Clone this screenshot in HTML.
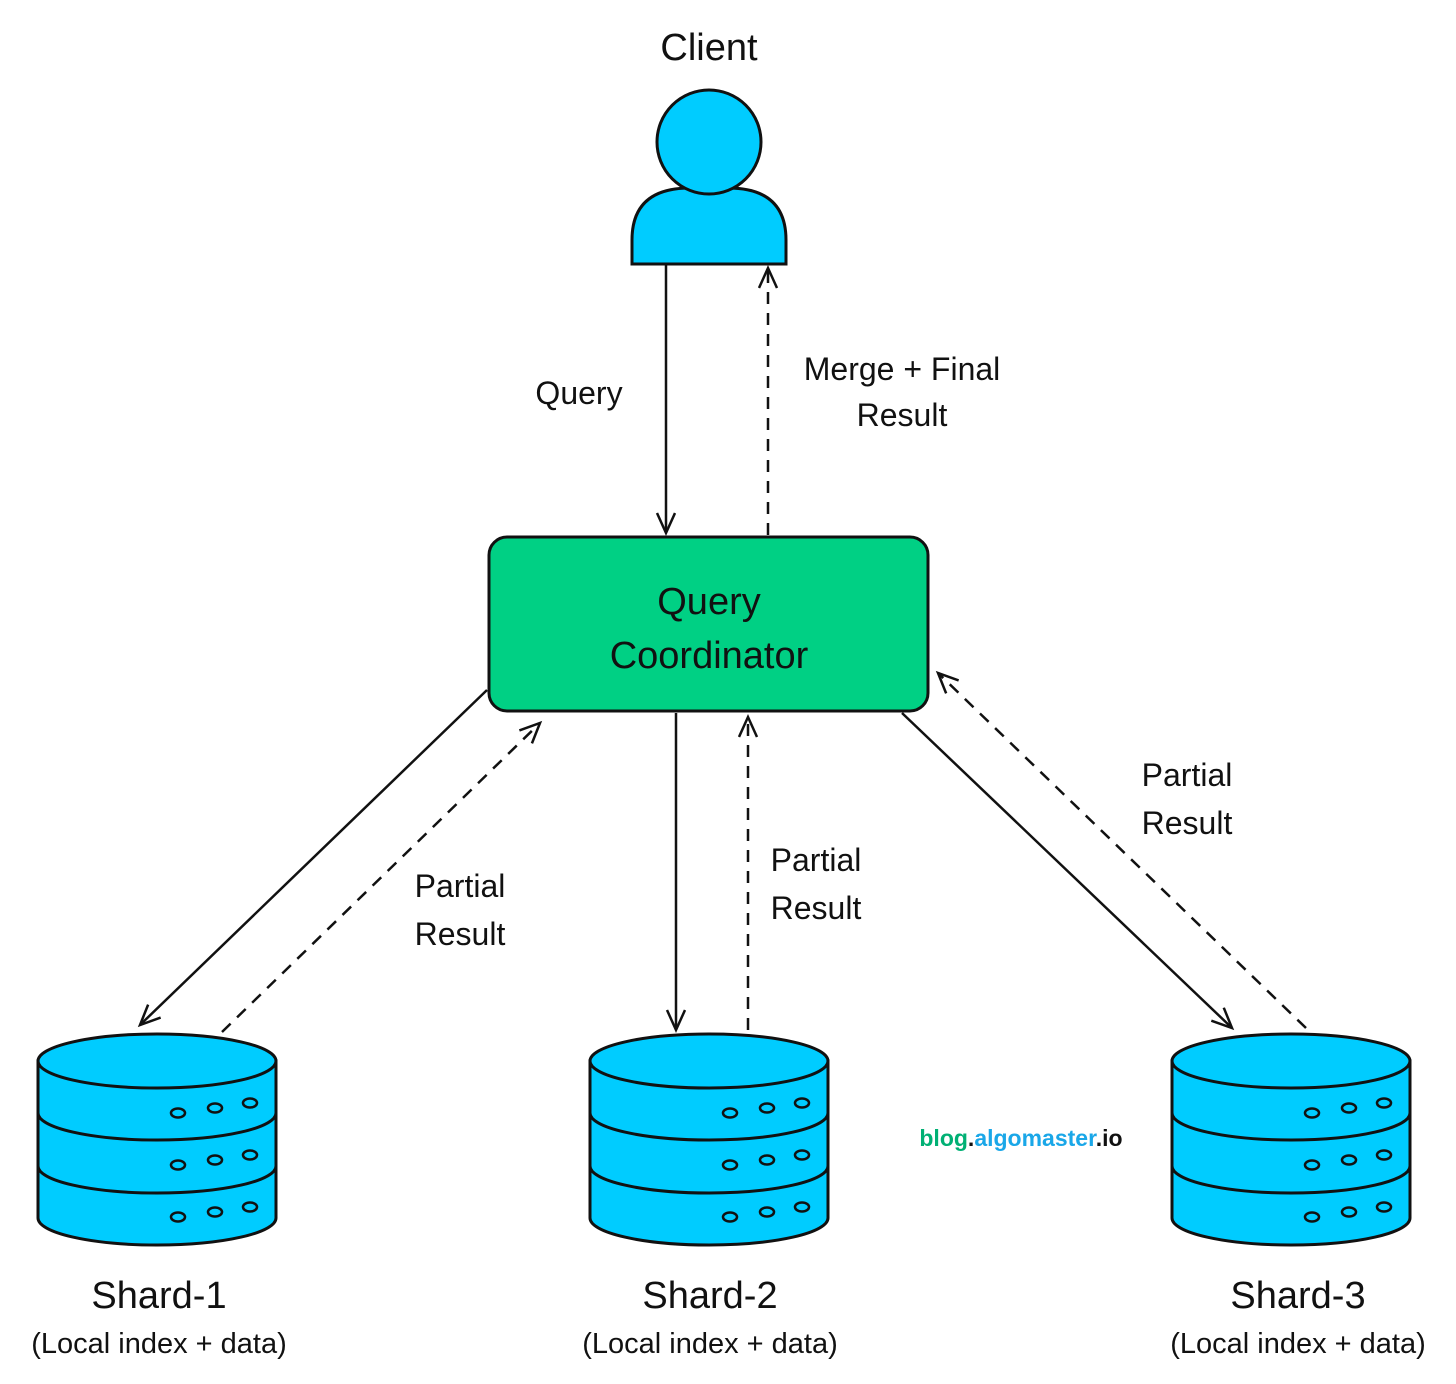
<!DOCTYPE html>
<html><head><meta charset="utf-8"><style>
html,body{margin:0;padding:0;background:#fff}
svg text{font-family:"Comic Sans MS","Liberation Sans",sans-serif;fill:#111}
</style></head><body>
<svg width="1456" height="1379" viewBox="0 0 1456 1379" xmlns="http://www.w3.org/2000/svg">
<defs>
<marker id="a" markerWidth="30" markerHeight="30" refX="22" refY="10" orient="auto" markerUnits="userSpaceOnUse">
<path d="M2,1 L22,10 L2,19" fill="none" stroke="#111" stroke-width="2.5"/>
</marker>
<g id="db" stroke="#111" stroke-width="3" fill="#00ccff">
<path d="M0,28 L0,185 A119,27 0 0 0 238,185 L238,28 Z"/>
<ellipse cx="119" cy="28" rx="119" ry="27"/>
<path d="M0,80 A119,27 0 0 0 238,80" fill="none"/>
<path d="M0,133 A119,27 0 0 0 238,133" fill="none"/>
<g fill="none" stroke-width="2.5">
<ellipse cx="140" cy="80" rx="7" ry="4.5"/><ellipse cx="177" cy="75" rx="7" ry="4.5"/><ellipse cx="212" cy="70" rx="7" ry="4.5"/>
<ellipse cx="140" cy="132" rx="7" ry="4.5"/><ellipse cx="177" cy="127" rx="7" ry="4.5"/><ellipse cx="212" cy="122" rx="7" ry="4.5"/>
<ellipse cx="140" cy="184" rx="7" ry="4.5"/><ellipse cx="177" cy="179" rx="7" ry="4.5"/><ellipse cx="212" cy="174" rx="7" ry="4.5"/>
</g>
</g>
</defs>

<text x="709" y="60" font-size="38" text-anchor="middle">Client</text>
<g stroke="#111" stroke-width="3" fill="#00ccff">
<path d="M632,264 L632,240 Q632,188 690,188 L728,188 Q786,188 786,240 L786,264 Z"/>
<circle cx="709" cy="142" r="52"/>
</g>

<g stroke="#111" stroke-width="2.5" fill="none">
<line x1="666" y1="264" x2="666" y2="533" marker-end="url(#a)"/>
<line x1="768" y1="535" x2="768" y2="268" stroke-dasharray="12,9" marker-end="url(#a)"/>
<line x1="487" y1="690" x2="140" y2="1025" marker-end="url(#a)"/>
<line x1="222" y1="1032" x2="540" y2="723" stroke-dasharray="12,9" marker-end="url(#a)"/>
<line x1="676" y1="713" x2="676" y2="1030" marker-end="url(#a)"/>
<line x1="748" y1="1030" x2="748" y2="717" stroke-dasharray="12,9" marker-end="url(#a)"/>
<line x1="902" y1="713" x2="1232" y2="1028" marker-end="url(#a)"/>
<line x1="1306" y1="1028" x2="938" y2="673" stroke-dasharray="12,9" marker-end="url(#a)"/>
</g>

<rect x="489" y="537" width="439" height="174" rx="18" fill="#00d084" stroke="#111" stroke-width="3"/>
<text x="709" y="614" font-size="38" text-anchor="middle">Query</text>
<text x="709" y="668" font-size="38" text-anchor="middle">Coordinator</text>

<g font-size="32" text-anchor="middle">
<text x="579" y="404">Query</text>
<text x="902" y="380">Merge + Final</text>
<text x="902" y="426">Result</text>
<text x="460" y="897">Partial</text>
<text x="460" y="945">Result</text>
<text x="816" y="871">Partial</text>
<text x="816" y="919">Result</text>
<text x="1187" y="786">Partial</text>
<text x="1187" y="834">Result</text>
</g>

<use href="#db" x="38" y="1033"/>
<use href="#db" x="590" y="1033"/>
<use href="#db" x="1172" y="1033"/>

<text x="1021" y="1146" font-size="23" font-weight="bold" text-anchor="middle" style="font-family:'Liberation Sans',sans-serif"><tspan fill="#00b074">blog</tspan><tspan fill="#111">.</tspan><tspan fill="#1aa7e8">algomaster</tspan><tspan fill="#111">.io</tspan></text>

<g text-anchor="middle">
<text x="159" y="1308" font-size="38">Shard-1</text>
<text x="159" y="1353" font-size="29">(Local index + data)</text>
<text x="710" y="1308" font-size="38">Shard-2</text>
<text x="710" y="1353" font-size="29">(Local index + data)</text>
<text x="1298" y="1308" font-size="38">Shard-3</text>
<text x="1298" y="1353" font-size="29">(Local index + data)</text>
</g>
</svg>
</body></html>
